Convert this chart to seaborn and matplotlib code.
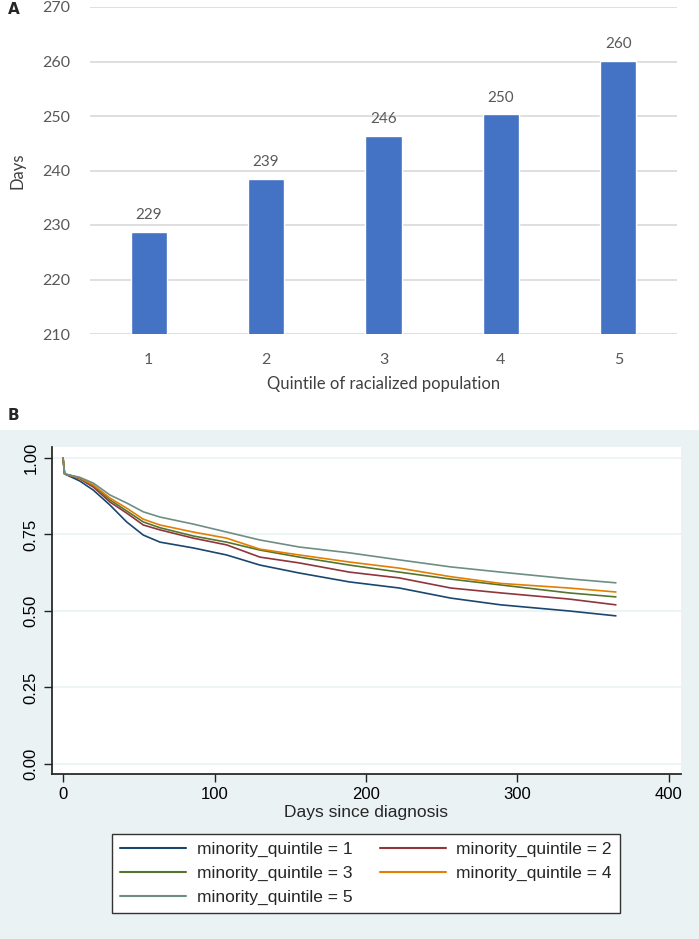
import pandas as pd
import matplotlib.pyplot as plt
import seaborn as sns
from matplotlib.patches import Rectangle

# Panel A data
quintiles = ["1", "2", "3", "4", "5"]
mean_days = [228.7, 238.5, 246.3, 250.3, 260.1]
day_labels = ["229", "239", "246", "250", "260"]

# Panel B data
days = [0, 1, 11, 20, 31, 42, 53, 64, 86, 108, 130, 156, 189, 222, 256, 289, 334, 365]
q1 = [1.0, 0.948, 0.925, 0.895, 0.846, 0.791, 0.748, 0.725, 0.706, 0.683, 0.650, 0.624, 0.595, 0.575, 0.542, 0.520, 0.500, 0.484]
q2 = [1.0, 0.948, 0.932, 0.905, 0.856, 0.820, 0.781, 0.765, 0.738, 0.716, 0.676, 0.657, 0.627, 0.608, 0.575, 0.559, 0.539, 0.520]
q3 = [1.0, 0.948, 0.935, 0.910, 0.863, 0.827, 0.791, 0.772, 0.745, 0.725, 0.699, 0.676, 0.650, 0.627, 0.604, 0.585, 0.559, 0.546]
q4 = [1.0, 0.948, 0.935, 0.912, 0.869, 0.836, 0.800, 0.781, 0.758, 0.738, 0.702, 0.683, 0.660, 0.640, 0.612, 0.590, 0.575, 0.562]
q5 = [1.0, 0.948, 0.937, 0.918, 0.879, 0.853, 0.824, 0.807, 0.784, 0.758, 0.732, 0.709, 0.690, 0.667, 0.644, 0.627, 0.605, 0.592]
groups = ["minority_quintile = 1", "minority_quintile = 2", "minority_quintile = 3",
          "minority_quintile = 4", "minority_quintile = 5"]
colors = ["#1a476f", "#90353b", "#55752f", "#e37e00", "#6e8e84"]

sns.set_theme(style="white")

fig = plt.figure(figsize=(6.99, 9.39), dpi=100)

# Stata-like background for panel B
fig.patches.append(Rectangle((0, 0), 1, 509 / 939, transform=fig.transFigure,
                             facecolor="#eaf2f3", edgecolor="none", zorder=-5))

# ---------------- Panel A ----------------
ax1 = fig.add_axes([90 / 699, 1 - 334 / 939, 587 / 699, 327 / 939])
sns.barplot(x=quintiles, y=mean_days, color="#4472C4", width=0.31, saturation=1, ax=ax1)
ax1.set_ylim(210, 270)
ax1.set_yticks(range(210, 271, 10))
ax1.set_xlim(-0.5, 4.5)
ax1.grid(axis="y", color="#d9d9d9", linewidth=1.2)
ax1.set_axisbelow(True)
for s in ax1.spines.values():
    s.set_visible(False)
ax1.tick_params(axis="both", length=0, labelsize=11.5, labelcolor="#595959")
ax1.tick_params(axis="y", pad=14)
ax1.tick_params(axis="x", pad=14)
for lab in ax1.get_xticklabels() + ax1.get_yticklabels():
    lab.set_family("Lato")
for i, (v, t) in enumerate(zip(mean_days, day_labels)):
    ax1.annotate(t, (i, v), xytext=(0, 7), textcoords="offset points",
                 ha="center", va="bottom", fontsize=11, color="#595959", family="Lato")
ax1.set_xlabel("Quintile of racialized population", fontsize=12, color="#404040",
               family="Lato", labelpad=6)
ax1.set_ylabel("Days", fontsize=12, color="#404040", family="Lato", labelpad=12)

fig.text(8 / 699, 1 - 10 / 939, "A", fontsize=11, fontweight="bold", va="center",
         family="DejaVu Sans")
fig.text(8 / 699, 1 - 416 / 939, "B", fontsize=11, fontweight="bold", va="center",
         family="DejaVu Sans")

# ---------------- Panel B ----------------
ax2 = fig.add_axes([52 / 699, 1 - 774 / 939, 629 / 699, 327 / 939])
rows = []
for g, vals in zip(groups, [q1, q2, q3, q4, q5]):
    for d, v in zip(days, vals):
        rows.append({"day": d, "surv": v, "group": g})
df = pd.DataFrame(rows)
sns.lineplot(data=df, x="day", y="surv", hue="group", palette=colors, estimator=None,
             linewidth=1.2, ax=ax2)
ax2.set_facecolor("white")
ax2.set_xlim(-7.3, 408)
ax2.set_ylim(-0.033, 1.036)
ax2.set_xticks([0, 100, 200, 300, 400])
ax2.set_yticks([0, 0.25, 0.5, 0.75, 1.0])
ax2.set_yticklabels(["0.00", "0.25", "0.50", "0.75", "1.00"], rotation=90, va="center")
ax2.grid(axis="y", color="#eaf2f3", linewidth=1.2)
ax2.set_axisbelow(True)
ax2.spines["top"].set_visible(False)
ax2.spines["right"].set_visible(False)
ax2.spines["left"].set_color("#222222")
ax2.spines["bottom"].set_color("#222222")
ax2.tick_params(axis="both", direction="out", length=6, width=1, color="#222222",
                labelsize=12, labelcolor="black", left=True, bottom=True)
for lab in ax2.get_xticklabels() + ax2.get_yticklabels():
    lab.set_family("Liberation Sans")
ax2.set_xlabel("Days since diagnosis", fontsize=12.5, family="Liberation Sans", labelpad=2)
ax2.set_ylabel("")

handles, labels = ax2.get_legend_handles_labels()
ax2.get_legend().remove()
order = [0, 2, 4, 1, 3]
leg = fig.legend([handles[i] for i in order], [labels[i] for i in order],
                 loc="center", bbox_to_anchor=(366 / 699, 1 - 873.5 / 939), ncol=2,
                 frameon=True, fancybox=False, framealpha=1, handlelength=3.8,
                 columnspacing=1.6, handletextpad=0.6, labelspacing=0.5, borderpad=0.45,
                 prop={"family": "Liberation Sans", "size": 12.5})
leg.get_frame().set_edgecolor("#333333")
leg.get_frame().set_facecolor("white")
leg.get_frame().set_linewidth(1)
for ln in leg.get_lines():
    ln.set_linewidth(1.5)

fig.savefig("out.png", dpi=100)
